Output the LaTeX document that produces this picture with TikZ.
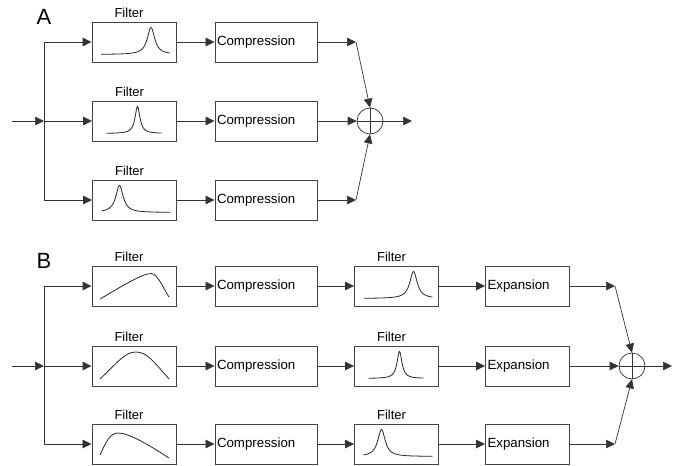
\documentclass[tikz,border=0pt]{standalone}
\usepackage{fontspec}
\setmainfont{Liberation Sans}
\usepackage{tikz}
\usetikzlibrary{arrows.meta}
\definecolor{swirec}{HTML}{333333}
\definecolor{sframec}{HTML}{444444}
\tikzset{
  >={Triangle[length=9pt,width=8.5pt]},
  swire/.style={draw=swirec, line width=0.7pt},
  sflow/.style={->, draw=swirec, line width=0.7pt},
  sblock/.style={draw=sframec, line width=0.9pt, minimum width=84pt,
                 minimum height=40pt, inner sep=0pt},
  sproc/.style={sblock, inner xsep=2pt, text width=#1, align=left,
                font=\fontsize{13.3}{15}\selectfont},
  sname/.style={font=\fontsize{13}{15}\selectfont, xshift=-5pt},
  ssum/.style={circle, draw=swirec, line width=0.7pt, minimum size=26pt,
               inner sep=0pt},
  stag/.style={font=\fontsize{22}{26}\selectfont},
  scurve/.style={draw=black!85, line width=0.8pt},
}

\begin{document}
\begin{tikzpicture}[x=1pt,y=-1pt]
  \useasboundingbox (0,0) rectangle (678,466);

  % pico de ressonancia dentro de um filtro
  \def\respeak#1#2#3#4#5{
    \draw[scurve, shift={(#1)}] plot[domain=#2:#3, samples=201, smooth]
      (\x, {12.5-27/(1+((\x-(#4))/#5)*((\x-(#4))/#5))});
  }

  % painel A
  \node[stag] (ta) at (44,17) {A};
  \coordinate (ina) at (12,121);
  \coordinate (ja) at (44,121);
  \node[sblock, label={[sname]above:Filter}] (fa1) at (134,42) {};
  \node[sblock, label={[sname]above:Filter}] (fa2) at (134.5,121) {};
  \node[sblock, label={[sname]above:Filter}] (fa3) at (134.5,200) {};
  \node[sproc=98pt] (ca1) at (266,42) {Compression};
  \node[sproc=98pt] (ca2) at (266,121) {Compression};
  \node[sproc=98pt] (ca3) at (266,200) {Compression};
  \coordinate (ka1) at (356,42);
  \coordinate (ka3) at (356,200);
  \node[ssum] (sa) at (370,121) {};
  \coordinate (outa) at (412,121);

  \respeak{fa1}{-33}{36}{17}{4.5}
  \respeak{fa2}{-28}{27}{3}{3}
  \respeak{fa3}{-33}{36}{-15}{4.5}

  \draw[sflow] (ina) -- (ja);
  \draw[sflow] (ja) |- (fa1);
  \draw[sflow] (ja) -- (fa2);
  \draw[sflow] (ja) |- (fa3);
  \draw[sflow] (fa1) -- (ca1);
  \draw[sflow] (fa2) -- (ca2);
  \draw[sflow] (fa3) -- (ca3);
  \draw[sflow] (ca1) -- (ka1);
  \draw[sflow] (ca3) -- (ka3);
  \draw[sflow] (ka1) -- (sa.north);
  \draw[sflow] (ca2) -- (sa);
  \draw[sflow] (ka3) -- (sa.south);
  \draw[swire] (sa.north) -- (sa.south) (sa.west) -- (sa.east);
  \draw[sflow] (sa) -- (outa);

  % painel B
  \node[stag] (tb) at (44,261) {B};
  \coordinate (inb) at (12,366);
  \coordinate (jb) at (44,366);
  \node[sblock, label={[sname]above:Filter}] (fb1) at (134,286) {};
  \node[sblock, label={[sname]above:Filter}] (fb2) at (134,366) {};
  \node[sblock, label={[sname]above:Filter}] (fb3) at (134,444) {};
  \node[sproc=98pt] (cb1) at (266,286) {Compression};
  \node[sproc=98pt] (cb2) at (266,366) {Compression};
  \node[sproc=98pt] (cb3) at (266,444) {Compression};
  \node[sblock, label={[sname]above:Filter}] (gb1) at (396.5,286) {};
  \node[sblock, label={[sname]above:Filter}] (gb2) at (396.5,366) {};
  \node[sblock, label={[sname]above:Filter}] (gb3) at (396.5,444) {};
  \node[sproc=80pt] (eb1) at (527.5,286) {Expansion};
  \node[sproc=80pt] (eb2) at (527.5,366) {Expansion};
  \node[sproc=80pt] (eb3) at (527.5,444) {Expansion};
  \coordinate (kb1) at (615,286);
  \coordinate (kb3) at (615,444);
  \node[ssum] (sb) at (632,366) {};
  \coordinate (outb) at (672,366);

  \draw[scurve, shift={(fb1)}] (-34,13) .. controls (-15,2) and (8,-12.5)
    .. (17,-12.5) .. controls (24,-12.5) and (30,4) .. (35,11);
  \draw[scurve, shift={(fb2)}] (-34,13) .. controls (-16,-4) and (-9,-14)
    .. (2,-14) .. controls (13,-14) and (20,-4) .. (35,13);
  \draw[scurve, shift={(fb3)}] (-34,11) .. controls (-28,-2) and (-24,-11)
    .. (-16,-11) .. controls (-5,-11) and (15,1) .. (35,14);
  \respeak{gb1}{-33}{36}{17}{4.5}
  \respeak{gb2}{-28}{27}{3}{3}
  \respeak{gb3}{-33}{36}{-15}{4.5}

  \draw[sflow] (inb) -- (jb);
  \draw[sflow] (jb) |- (fb1);
  \draw[sflow] (jb) -- (fb2);
  \draw[sflow] (jb) |- (fb3);
  \draw[sflow] (fb1) -- (cb1);
  \draw[sflow] (fb2) -- (cb2);
  \draw[sflow] (fb3) -- (cb3);
  \draw[sflow] (cb1) -- (gb1);
  \draw[sflow] (cb2) -- (gb2);
  \draw[sflow] (cb3) -- (gb3);
  \draw[sflow] (gb1) -- (eb1);
  \draw[sflow] (gb2) -- (eb2);
  \draw[sflow] (gb3) -- (eb3);
  \draw[sflow] (eb1) -- (kb1);
  \draw[sflow] (eb3) -- (kb3);
  \draw[sflow] (kb1) -- (sb.north);
  \draw[sflow] (eb2) -- (sb);
  \draw[sflow] (kb3) -- (sb.south);
  \draw[swire] (sb.north) -- (sb.south) (sb.west) -- (sb.east);
  \draw[sflow] (sb) -- (outb);

\end{tikzpicture}
\end{document}
